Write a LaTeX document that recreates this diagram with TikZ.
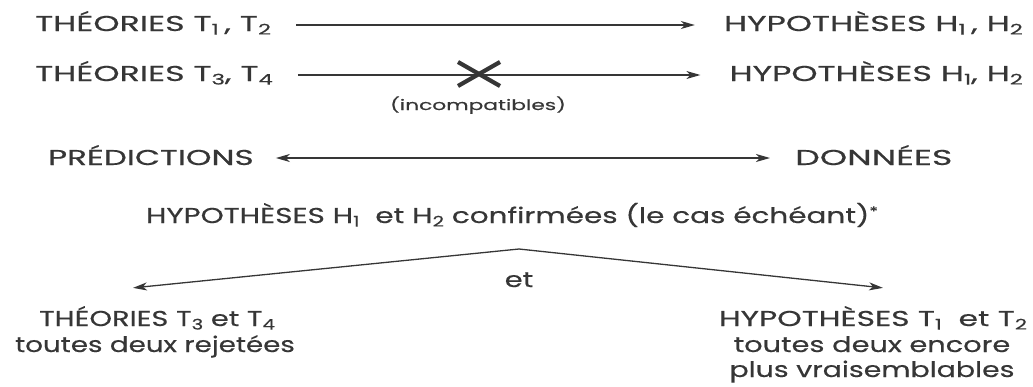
\documentclass[tikz,border=0pt]{standalone}
\usepackage{fontspec}
\setmainfont{Poppins}[FakeBold=0.4]
\usetikzlibrary{arrows.meta,calc}
\definecolor{ink}{HTML}{363636}
\newcommand{\lo}[1]{\raisebox{-0.3ex}{\scalebox{0.68}{#1}}}
\newcommand{\sx}[2]{\scalebox{#1}[1]{#2}}
\begin{document}
\begin{tikzpicture}[x=1pt,y=-1pt,
  lbl/.style={inner sep=0pt,text=ink,font=\fontsize{21.5}{25}\selectfont},
  small/.style={inner sep=0pt,text=ink,font=\fontsize{14.5}{17}\selectfont},
  conn/.style={draw=ink,line width=1.3pt,-{Stealth[length=14pt,width=8pt,inset=4pt]}},
  both/.style={draw=ink,line width=1.3pt,{Stealth[length=14pt,width=8pt,inset=4pt]}-{Stealth[length=14pt,width=8pt,inset=4pt]}}]
\useasboundingbox (0,0) rectangle (1033,386);
% row 1
\node[lbl,anchor=base west] (t12) at (35,31) {\sx{1.55}{THÉORIES T\lo{1}\,, T\lo{2}}};
\node[lbl,anchor=base east] (h12a) at (1023,31) {\sx{1.55}{HYPOTHÈSES H\lo{1}\,, H\lo{2}}};
\draw[conn] ($(t12.base east)+(25,-6)$) -- ($(h12a.base west)+(-29,-6)$);
% row 2
\node[lbl,anchor=base west] (t34) at (35,81) {\sx{1.55}{THÉORIES T\lo{3}, T\lo{4}}};
\node[lbl,anchor=base east] (h12b) at (1023,81) {\sx{1.55}{HYPOTHÈSES H\lo{1}, H\lo{2}}};
\draw[conn] ($(t34.base east)+(25,-6)$) -- ($(h12b.base west)+(-29,-6)$);
\coordinate (xc) at (479,74);
\draw[ink,line width=4.2pt] ($(xc)+(-21,-12)$) -- ($(xc)+(21,12)$);
\draw[ink,line width=4.2pt] ($(xc)+(-21,12)$) -- ($(xc)+(21,-12)$);
\node[small,anchor=base] (inc) at (478,110) {\sx{1.5}{(incompatibles)}};
% row 3
\node[lbl,anchor=base west] (pred) at (48,165) {\sx{1.52}{PRÉDICTIONS}};
\node[lbl,anchor=base west] (don) at (795,165) {\sx{1.62}{DONNÉES}};
\draw[both] ($(pred.base east)+(22,-7)$) -- ($(don.base west)+(-25,-7)$);
% row 4
\node[lbl,anchor=base] (conf) at (512,223) {\sx{1.37}{HYPOTHÈSES H\lo{1}~ et H\lo{2} confirmées (le cas échéant)\raisebox{0.6ex}{\scalebox{0.6}{*}}}};
\coordinate (apex) at (519,249);
\node[lbl,anchor=base] (et) at (519,287) {\sx{1.35}{et}};
% bottom left
\node[lbl,anchor=base] (rej) at (157,326) {\sx{1.34}{THÉORIES T\lo{3} et T\lo{4}}};
\node[lbl,anchor=base] (rej2) at (155,352) {\sx{1.29}{toutes deux rejetées}};
% bottom right
\node[lbl,anchor=base] (vrai) at (873,326) {\sx{1.46}{HYPOTHÈSES T\lo{1}~ et T\lo{2}}};
\node[lbl,anchor=base] (vrai2) at (872,352) {\sx{1.34}{toutes deux encore}};
\node[lbl,anchor=base] (vrai3) at (872,377) {\sx{1.32}{plus vraisemblables}};
\draw[conn] (apex) -- ($(rej.north)+(-24,-18)$);
\draw[conn] (apex) -- ($(vrai.north)+(10,-18)$);
\end{tikzpicture}
\end{document}
